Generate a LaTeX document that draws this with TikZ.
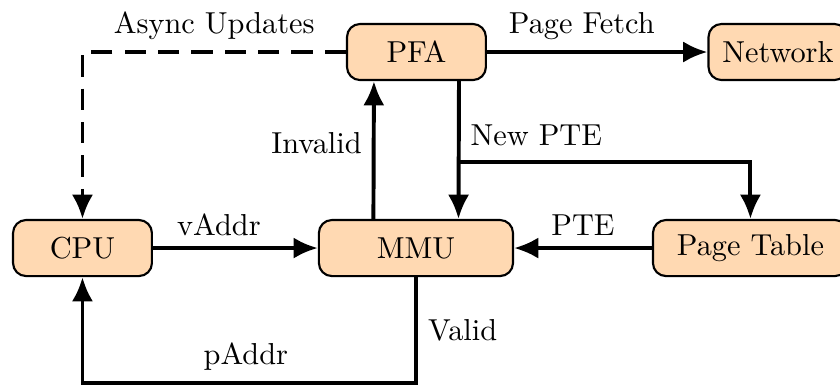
\documentclass[tikz,border=0pt]{standalone}
\usepackage{amsmath, amssymb}
\usepackage{xcolor}
\usepackage{tikz}
\usetikzlibrary{arrows.meta}

\begin{document}
\begin{tikzpicture}[
        box/.style={draw, line width=0.7pt, fill=orange!30, rounded corners=4.3pt,
            minimum height=0.65cm, minimum width=1.61cm, inner sep=3pt},
        link/.style={line width=1.3pt, -{Latex[length=8pt, width=7pt]}}
    ]
        \useasboundingbox (0,0) rectangle (9.736,4.474);
        \node[box] (pfa) at (4.827,3.871) {PFA};
        \node[box] (net) at (9.017,3.871) {Network};
        \node[box] (cpu) at (0.956,1.599) {CPU};
        \node[box, minimum width=2.25cm] (mmu) at (4.821,1.599) {MMU};
        \node[box, minimum width=2.26cm] (pt) at (8.698,1.599) {Page Table};
        \coordinate (fork) at (5.314,2.596);
        \coordinate (bot) at (4.821,0.04);
        \draw[link, dash pattern=on 7pt off 4pt] (pfa.west) -- node[above]{Async Updates} (cpu.north |- pfa.west) -- (cpu.north);
        \draw[link] (pfa.east) -- node[above, pos=0.43]{Page Fetch} (net.west);
        \draw[link] ([xshift=-0.493cm]mmu.north) -- node[left, pos=0.55]{Invalid} ([xshift=-0.493cm]pfa.south);
        \draw[link] ([xshift=0.493cm]pfa.south) -- ([xshift=0.493cm]mmu.north);
        \draw[link] (fork) node[above right, yshift=1.5pt]{New PTE} -| (pt.north);
        \draw[link] (cpu.east) -- node[above, pos=0.4]{vAddr} (mmu.west);
        \draw[link] (pt.west) -- node[above]{PTE} (mmu.east);
        \draw[link] (mmu.south) -- node[right, pos=0.5]{Valid} (bot) -- node[above, pos=0.51]{pAddr} (cpu.south |- bot) -- (cpu.south);
    \end{tikzpicture}
\end{document}
